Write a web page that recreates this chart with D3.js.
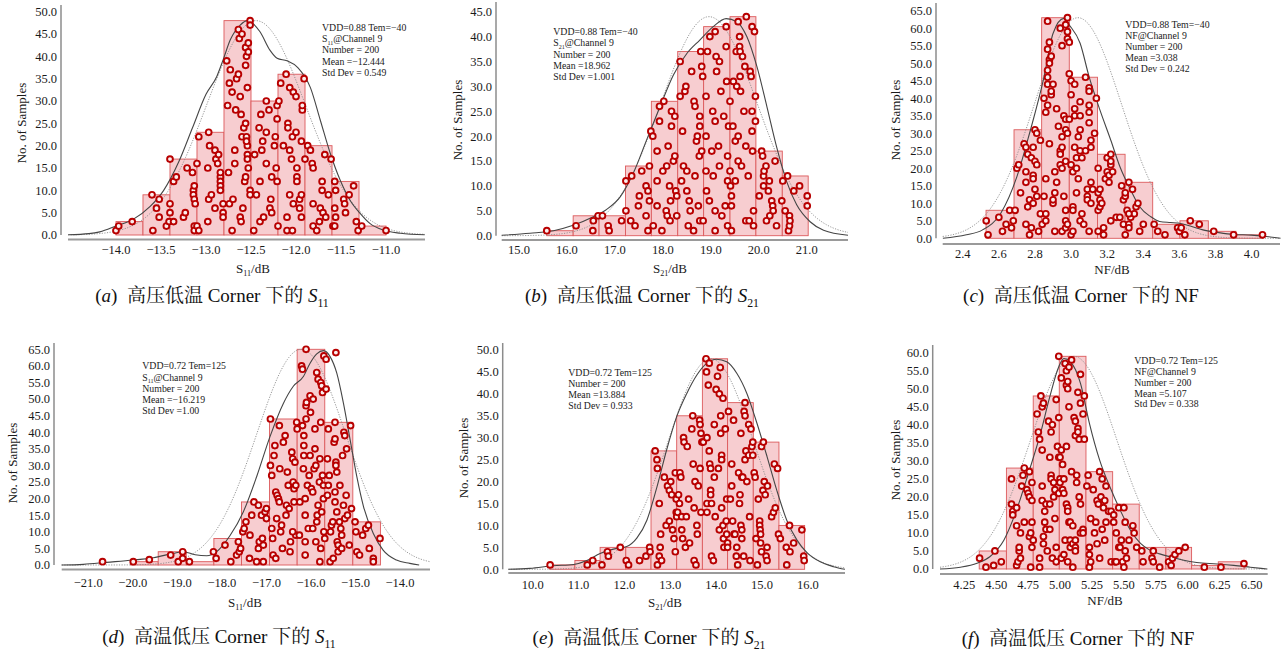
<!DOCTYPE html>
<html>
<head>
<meta charset="utf-8">
<script src="https://cdn.jsdelivr.net/npm/d3@7"></script>
<style>
  html, body { margin: 0; padding: 0; background: #fff; }
  svg { display: block; }
</style>
</head>
<body>
<svg id="fig" width="1281" height="653"></svg>
<script>
// ---------------- data ----------------
// (a) S11, VDD=0.88, -40 C
const edgesA  = [-14.0,-13.7,-13.4,-13.1,-12.8,-12.5,-12.2,-11.9,-11.6,-11.3,-11.0];
const countsA = [3,9,17,23,48,30,36,20,12,2];
const fitA    = [-12.444, 0.549];
const xTicksA = [-14.0,-13.5,-13.0,-12.5,-12.0,-11.5,-11.0];
const yTicksA = [0,5,10,15,20,25,30,35,40,45,50];
const statsA  = ["VDD=0.88 Tem=−40","S_{11}@Channel 9","Number = 200","Mean =−12.444","Std Dev = 0.549"];
const kdeA = [[-14.53,0.05],[-14.3,0.3],[-14.18,0.7],[-14.0,2.0],[-13.81,3.5],[-13.62,6.4],[-13.47,10],[-13.3,16.5],[-13.15,24],[-13.0,31.5],[-12.88,35.5],[-12.81,39.2],[-12.73,43.7],[-12.62,47],[-12.54,48],[-12.4,45.5],[-12.29,41.4],[-12.21,39.6],[-12.1,39],[-11.98,37.5],[-11.84,33],[-11.73,25.7],[-11.62,18.3],[-11.51,12.3],[-11.4,7.8],[-11.29,4.9],[-11.18,2.6],[-11.03,1.1],[-10.84,0.4],[-10.57,0.05]];
const pointsA = [[-14.0,1],[-13.97,2],[-13.82,3],
[-13.6,9],[-13.52,8],[-13.55,6],[-13.52,4],[-13.59,1],[-13.44,2],[-13.41,3],[-13.4,5],[-13.4,7],
[-13.4,17],[-13.36,12],[-13.33,13],[-13.36,3],[-13.25,4],[-13.23,5],[-13.21,15],[-13.15,14],[-13.14,10],[-13.14,9],[-13.13,8],[-13.12,7],[-13.13,2],[-13.13,1],[-13.1,16],[-13.13,11],
[-13.08,22],[-13.1,2],[-13.08,1],[-12.97,23],[-12.98,15],[-12.96,20],[-12.98,3],[-12.97,8],[-12.94,9],[-12.9,19],[-12.89,17],[-12.87,16],[-12.9,6],[-12.86,18],[-12.84,13],[-12.84,14],[-12.84,12],[-12.84,11],[-12.84,10],[-12.81,7],[-12.81,5],[-12.81,4],
[-12.77,39],[-12.76,29],[-12.74,34],[-12.73,37],[-12.71,32],[-12.75,14],[-12.74,7],[-12.71,1],[-12.7,8],[-12.68,19],[-12.68,16],[-12.67,28],[-12.66,35],[-12.64,46],[-12.63,44],[-12.62,4],[-12.64,36],[-12.62,31],[-12.61,3],[-12.6,45],[-12.61,27],[-12.6,22],[-12.59,6],[-12.58,24],[-12.56,38],[-12.56,25],[-12.56,42],[-12.55,40],[-12.55,22],[-12.54,20],[-12.53,43],[-12.53,41],[-12.51,48],[-12.51,47],[-12.57,12],[-12.56,13],[-12.54,18],[-12.54,17],[-12.53,15],[-12.51,10],[-12.51,9],[-12.54,33],[-12.55,21],
[-12.47,1],[-12.46,18],[-12.41,24],[-12.4,3],[-12.38,19],[-12.37,21],[-12.39,27],[-12.36,4],[-12.33,30],[-12.33,23],[-12.33,16],[-12.3,28],[-12.28,8],[-12.29,6],[-12.27,5],[-12.27,13],[-12.24,20],[-12.23,22],[-12.22,15],[-12.21,26],[-12.21,29],[-12.2,2],[-12.21,12],[-12.4,12],[-12.44,9],
[-12.19,30],[-12.17,34],[-12.14,20],[-12.11,36],[-12.1,1],[-12.09,25],[-12.07,33],[-12.07,9],[-12.09,24],[-12.07,19],[-12.05,17],[-12.04,1],[-12.04,22],[-12.03,7],[-12.03,32],[-12.0,31],[-12.0,23],[-11.99,13],[-11.99,12],[-11.96,8],[-11.96,6],[-11.94,9],[-11.94,4],[-11.93,28],[-11.93,29],[-11.94,21],[-11.91,35],[-11.99,15],[-12.1,4],
[-11.9,17],[-11.87,20],[-11.84,19],[-11.82,16],[-11.81,15],[-11.81,7],[-11.81,2],[-11.77,1],[-11.74,3],[-11.73,6],[-11.71,12],[-11.71,10],[-11.7,5],[-11.68,18],[-11.67,4],[-11.64,9],[-11.61,17],[-11.59,2],
[-11.57,12],[-11.57,6],[-11.56,10],[-11.47,8],[-11.46,7],[-11.45,5],[-11.41,9],[-11.36,11],[-11.33,3],[-11.31,1],[-11.56,4],[-11.57,2],
[-11.27,2],[-11.0,1]];

// (b) S21, VDD=0.88, -40 C
const edgesB  = [15.58,16.13,16.67,17.22,17.76,18.31,18.85,19.40,19.94,20.49,21.03];
const countsB = [1,4,4,14,27,37,42,44,17,12];
const fitB    = [18.962, 1.001];
const xTicksB = [15,16,17,18,19,20,21];
const yTicksB = [0,5,10,15,20,25,30,35,40,45];
const statsB  = ["VDD=0.88 Tem=−40","S_{21}@Channel 9","Number = 200","Mean =18.962","Std Dev =1.001"];
const kdeB = [[14.64,0.1],[15.23,0.5],[15.72,1.0],[16.13,2.1],[16.55,3.8],[16.83,5.3],[17.11,7.8],[17.38,12.5],[17.66,19.2],[17.94,25.9],[18.22,32.3],[18.5,36.6],[18.77,39.3],[19.05,42.0],[19.32,43.6],[19.54,43.0],[19.75,40.0],[19.96,34.0],[20.17,25.9],[20.37,17.9],[20.58,10.9],[20.79,6.2],[21.07,2.8],[21.35,1.1],[21.86,0.1]];
const pointsB = [[15.58,1],[16.19,2],[16.55,3],[16.54,1],[16.65,4],[16.74,4],[16.86,2],[16.88,1],
[17.14,3],[17.23,5],[17.23,11],[17.35,12],[17.33,3],[17.42,2],[17.49,6],[17.51,8],[17.56,13],[17.65,10],[17.69,9],[17.65,4],[17.72,7],[17.69,1],[17.72,14],[17.75,21],[17.79,20],[17.8,2],
[17.88,17],[17.88,11],[17.88,6],[17.93,23],[17.93,26],[17.98,1],[18.0,13],[18.02,27],[18.07,5],[18.08,14],[18.09,4],[18.11,18],[18.14,10],[18.15,3],[18.16,7],[18.18,22],[18.18,25],[18.22,15],[18.25,24],[18.25,16],[18.27,9],[18.29,8],[18.29,4],
[18.36,35],[18.36,28],[18.39,11],[18.41,21],[18.43,14],[18.46,29],[18.48,30],[18.5,9],[18.5,13],[18.53,2],[18.55,7],[18.57,5],[18.6,33],[18.64,1],[18.65,27],[18.67,26],[18.67,12],[18.7,19],[18.72,20],[18.74,6],[18.76,16],[18.77,24],[18.77,22],[18.79,37],[18.77,3],[18.81,17],[18.81,34],[18.83,32],[18.84,3],
[18.9,28],[18.9,20],[18.9,13],[18.91,9],[18.93,37],[18.97,7],[18.98,40],[19.02,17],[19.04,25],[19.05,12],[19.09,1],[19.09,41],[19.09,23],[19.09,5],[19.11,36],[19.12,33],[19.16,18],[19.18,14],[19.18,35],[19.21,29],[19.23,4],[19.27,24],[19.3,6],[19.32,38],[19.32,42],[19.33,31],[19.35,16],[19.35,11],[19.35,2],[19.37,22],
[19.4,27],[19.4,13],[19.41,10],[19.43,1],[19.43,8],[19.43,6],[19.46,22],[19.47,31],[19.51,11],[19.51,19],[19.53,37],[19.54,30],[19.57,15],[19.57,20],[19.57,43],[19.6,40],[19.6,38],[19.61,37],[19.61,32],[19.62,29],[19.64,14],[19.66,36],[19.69,25],[19.71,34],[19.73,18],[19.73,3],[19.74,44],[19.78,12],[19.8,3],[19.82,33],[19.84,32],[19.86,42],[19.86,21],[19.86,25],[19.87,17],[19.89,5],[19.89,2],[19.91,41],[19.93,23],[19.93,28],
[20.01,8],[20.06,17],[20.08,16],[20.1,10],[20.1,12],[20.11,13],[20.15,14],[20.16,3],[20.2,9],[20.22,11],[20.23,4],[20.27,7],[20.29,6],[20.3,5],[20.34,15],[20.37,2],[20.48,7],
[20.5,11],[20.55,5],[20.6,12],[20.62,1],[20.64,2],[20.64,4],[20.65,3],[20.73,9],[20.85,10],[21.01,8],[21.01,6]];

// (c) NF, VDD=0.88, -40 C
const edgesC  = [2.529,2.684,2.837,2.990,3.146,3.299,3.452,3.603,3.760,3.913,4.065];
const countsC = [8,31,63,46,24,16,4,5,2,1];
const fitC    = [3.038, 0.242];
const xTicksC = [2.4,2.6,2.8,3.0,3.2,3.4,3.6,3.8,4.0];
const yTicksC = [0,5,10,15,20,25,30,35,40,45,50,55,60,65];
const statsC  = ["VDD=0.88 Tem=−40","NF@Channel 9","Number = 200","Mean =3.038","Std Dev = 0.242"];
const kdeC = [[2.29,0],[2.42,1],[2.51,2.4],[2.61,7.1],[2.7,17.6],[2.77,30],[2.85,46],[2.9,58.5],[2.96,62.8],[2.99,60.9],[3.05,55.7],[3.1,46.1],[3.16,36.6],[3.22,28],[3.27,20.5],[3.33,13.8],[3.38,9],[3.44,6.2],[3.49,4.8],[3.55,4.5],[3.6,4.3],[3.66,3.5],[3.73,2.4],[3.81,1.7],[3.9,1.1],[4.0,0.9],[4.08,0.5],[4.16,0]];
const pointsC = [[2.53,5],[2.54,1],[2.6,6],[2.62,2],[2.64,4],[2.66,8],[2.67,3],[2.68,5],
[2.69,8],[2.7,20],[2.71,21],[2.72,13],[2.74,27],[2.75,26],[2.75,19],[2.75,4],[2.75,16],[2.76,24],[2.76,9],[2.77,11],[2.77,1],[2.78,3],[2.78,23],[2.79,18],[2.79,17],[2.79,10],[2.79,26],[2.8,31],[2.8,22],[2.8,14],[2.81,30],[2.81,21],[2.81,12],[2.82,2],[2.83,7],[2.83,28],[2.84,4],
[2.85,40],[2.85,12],[2.86,17],[2.86,5],[2.86,7],[2.86,36],[2.87,62],[2.87,54],[2.87,38],[2.87,48],[2.87,46],[2.87,44],[2.88,51],[2.88,27],[2.88,56],[2.88,50],[2.89,41],[2.89,52],[2.89,42],[2.9,10],[2.9,44],[2.9,11],[2.91,19],[2.91,2],[2.91,13],[2.92,16],[2.92,37],[2.93,32],[2.94,25],[2.94,24],[2.94,21],[2.94,60],[2.95,20],[2.95,55],[2.95,26],[2.95,29],[2.95,2],[2.96,12],[2.96,35],[2.97,31],[2.97,34],[2.97,8],[2.97,61],[2.97,3],[2.97,5],[2.97,22],[2.98,63],[2.98,57],[2.98,59],[2.98,30],[2.98,4],[2.99,56],[2.99,34],
[2.99,47],[3.0,1],[3.0,45],[3.0,41],[3.0,21],[3.01,19],[3.01,9],[3.01,2],[3.01,8],[3.02,26],[3.02,37],[3.02,35],[3.02,44],[3.03,13],[3.03,20],[3.03,23],[3.04,17],[3.04,29],[3.05,35],[3.05,25],[3.05,31],[3.05,39],[3.05,5],[3.06,7],[3.06,23],[3.07,4],[3.08,46],[3.08,25],[3.09,14],[3.09,12],[3.09,11],[3.1,43],[3.1,42],[3.1,33],[3.1,2],[3.1,38],[3.1,36],[3.11,28],[3.11,26],[3.11,16],[3.11,10],[3.12,14],[3.13,30],[3.14,40],
[3.15,20],[3.15,2],[3.15,13],[3.15,8],[3.16,9],[3.16,11],[3.16,14],[3.17,10],[3.18,3],[3.18,1],[3.19,17],[3.2,19],[3.2,23],[3.21,16],[3.21,18],[3.22,21],[3.22,24],[3.22,5],[3.22,22],[3.23,19],[3.25,6],[3.27,6],[3.28,15],[3.29,4],
[3.29,11],[3.3,12],[3.3,1],[3.3,13],[3.31,8],[3.32,16],[3.32,4],[3.32,3],[3.33,6],[3.34,14],[3.35,7],[3.36,9],[3.37,10],[3.38,2],[3.4,4],[3.32,7],
[3.46,4],[3.48,2],[3.52,1],[3.59,3],[3.6,2],[3.61,3],[3.63,1],[3.66,5],[3.71,4],[3.79,2],[3.9,1],[4.06,1]];

// (d) S11, VDD=0.72, 125 C
const edgesD  = [-20.05,-19.43,-18.80,-18.18,-17.56,-16.93,-16.31,-15.69,-15.06,-14.44];
const countsD = [1,4,1,8,19,44,65,43,13];
const fitD    = [-16.219, 1.00];
const xTicksD = [-21,-20,-19,-18,-17,-16,-15,-14];
const yTicksD = [0,5,10,15,20,25,30,35,40,45,50,55,60,65];
const statsD  = ["VDD=0.72 Tem=125","S_{11}@Channel 9","Number = 200","Mean =−16.219","Std Dev =1.00"];
const kdeD = [[-21.6,0],[-21.11,0.2],[-20.59,0.8],[-19.99,1.5],[-19.54,2.2],[-19.09,3.5],[-18.87,4],[-18.6,3.1],[-18.34,2.8],[-18.12,4],[-17.82,8.8],[-17.52,16],[-17.22,26.6],[-16.92,38.7],[-16.62,48.7],[-16.4,53.8],[-16.17,56.8],[-16.02,60.8],[-15.87,63.6],[-15.72,64.6],[-15.57,62.8],[-15.42,57.8],[-15.27,48.7],[-15.12,37.7],[-14.97,26.6],[-14.82,17.6],[-14.6,9.5],[-14.38,4.5],[-14.08,1.5],[-13.78,0.5],[-13.57,0]];
const pointsD = [[-20.68,1],[-19.99,1],[-19.63,1.6],
[-19.15,3],[-18.88,4],[-18.98,1],[-18.88,2],[-18.73,1],
[-18.19,4],[-18.13,2],[-17.93,6],[-17.8,1],
[-17.67,3],[-17.63,7],[-17.61,4],[-17.58,5],[-17.53,10],[-17.5,11],[-17.46,13],[-17.38,2],[-17.37,9],[-17.33,15],[-17.28,19],[-17.22,1],[-17.18,18],[-17.18,5],[-17.16,7],[-17.11,15],[-17.09,8],[-17.07,1],[-17.07,6],[-17.03,16],[-17.0,14],[-17.0,17],
[-16.91,44],[-16.91,30],[-16.88,27],[-16.88,11],[-16.86,8],[-16.85,3],[-16.83,33],[-16.81,36],[-16.79,2],[-16.79,22],[-16.77,14],[-16.76,21],[-16.73,20],[-16.71,42],[-16.71,19],[-16.7,29],[-16.68,10],[-16.66,12],[-16.64,5],[-16.62,37],[-16.58,39],[-16.56,15],[-16.55,18],[-16.53,28],[-16.51,24],[-16.49,17],[-16.47,4],[-16.46,7],[-16.43,34],[-16.41,32],[-16.4,25],[-16.38,23],[-16.38,19],[-16.36,31],[-16.34,24],[-16.32,43],[-16.31,41],[-16.34,9],[-16.41,10],
[-16.26,9],[-16.25,19],[-16.21,60],[-16.19,42],[-16.19,59],[-16.17,29],[-16.16,33],[-16.16,36],[-16.16,39],[-16.13,15],[-16.13,20],[-16.13,7],[-16.13,3],[-16.11,44],[-16.11,48],[-16.11,65],[-16.1,49],[-16.08,24],[-16.06,11],[-16.04,27],[-16.02,51],[-16.02,33],[-16.01,46],[-15.99,23],[-15.96,22],[-15.96,11],[-15.95,50],[-15.93,29],[-15.91,41],[-15.91,35],[-15.89,7],[-15.89,30],[-15.87,58],[-15.87,13],[-15.86,15],[-15.84,56],[-15.84,18],[-15.81,25],[-15.8,32],[-15.8,1],[-15.78,55],[-15.78,43],[-15.78,5],[-15.76,54],[-15.76,16],[-15.74,52],[-15.74,27],[-15.72,20],[-15.72,24],[-15.71,10],[-15.71,63],[-15.69,8],
[-15.66,53],[-15.66,62],[-15.63,32],[-15.63,21],[-15.61,41],[-15.61,24],[-15.59,27],[-15.57,1],[-15.56,10],[-15.54,12],[-15.51,13],[-15.5,2],[-15.48,37],[-15.46,38],[-15.46,19],[-15.46,22],[-15.44,64],[-15.46,43],[-15.44,31],[-15.44,30],[-15.42,28],[-15.42,16],[-15.41,7],[-15.39,6],[-15.39,4],[-15.36,13],[-15.35,24],[-15.33,11],[-15.31,9],[-15.31,5],[-15.29,33],[-15.27,18],[-15.26,40],[-15.24,14],[-15.24,39],[-15.21,21],[-15.2,35],[-15.18,15],[-15.14,6],[-15.11,42],[-15.09,17],
[-15.01,13],[-14.99,10],[-14.97,4],[-14.91,3],[-14.84,9],[-14.77,11],[-14.71,12],[-14.69,5],[-14.6,2],[-14.6,1],[-14.45,8]];

// (e) S21, VDD=0.72, 125 C
const edgesE  = [10.37,10.92,11.47,12.03,12.58,13.14,13.70,14.25,14.81,15.37,15.93];
const countsE = [1,2,5,5,27,35,48,38,29,10];
const fitE    = [13.884, 0.933];
const xTicksE = [10,11,12,13,14,15,16];
const yTicksE = [0,5,10,15,20,25,30,35,40,45,50];
const statsE  = ["VDD=0.72 Tem=125","Number = 200","Mean =13.884","Std Dev = 0.933"];
const kdeE = [[9.47,0],[9.94,0.2],[10.45,0.8],[10.89,1.1],[11.18,2],[11.47,3.6],[11.76,4.6],[12.05,5.2],[12.27,7.1],[12.49,11.2],[12.71,18.8],[12.92,27.2],[13.14,34.8],[13.36,40.1],[13.58,44.3],[13.8,47],[14.01,47.9],[14.23,47.3],[14.45,44.7],[14.67,40.1],[14.89,33.3],[15.11,25.7],[15.32,18.1],[15.54,11.2],[15.76,6.7],[15.98,3.8],[16.27,1.7],[16.56,0.6],[16.81,0]];
const pointsE = [[10.38,1],[11.19,1],[11.31,2],[11.51,1],[11.63,4],[11.65,3],[11.91,5],
[12.04,2],[12.09,1],[12.33,2],[12.47,3],[12.55,5],[12.56,4],
[12.67,27],[12.71,25],[12.72,23],[12.72,1],[12.76,15],[12.76,3],[12.78,5],[12.79,8],[12.81,2],[12.87,21],[12.91,10],[12.94,19],[12.98,11],[12.98,18],[13.01,20],[13.03,17],[13.05,9],[13.08,7],[13.11,22],[13.13,16],[13.13,13],[13.11,4],
[13.14,12],[13.16,13],[13.18,17],[13.2,15],[13.21,22],[13.23,21],[13.25,12],[13.25,9],[13.27,7],[13.29,30],[13.3,29],[13.33,5],[13.35,12],[13.37,28],[13.42,6],[13.4,16],[13.49,35],[13.47,32],[13.5,24],[13.52,14],[13.52,2],[13.54,20],[13.56,1],[13.58,10],[13.59,8],[13.61,19],[13.64,34],[13.65,33],[13.65,23],[13.67,13],[13.67,31],[13.69,29],
[13.72,29],[13.78,48],[13.79,45],[13.8,30],[13.8,15],[13.8,13],[13.83,42],[13.85,47],[13.85,27],[13.86,24],[13.88,23],[13.88,18],[13.88,17],[13.9,3],[13.9,15],[13.94,2],[13.96,33],[13.96,21],[13.98,12],[14.0,41],[14.03,44],[14.05,23],[14.07,40],[14.07,9],[14.09,46],[14.1,35],[14.1,31],[14.12,26],[14.12,25],[14.12,14],[14.15,39],[14.15,10],[14.16,7],[14.17,5],[14.2,32],[14.22,11],[14.23,16],[14.23,8],[14.25,6],[14.25,5],
[14.27,36],[14.31,16],[14.34,24],[14.34,19],[14.36,11],[14.38,34],[14.39,8],[14.41,8],[14.44,3],[14.45,5],[14.47,1],[14.49,22],[14.51,15],[14.52,17],[14.54,31],[14.54,10],[14.56,21],[14.56,9],[14.56,7],[14.58,21],[14.6,3],[14.61,36],[14.63,35],[14.63,38],[14.63,25],[14.65,27],[14.67,20],[14.71,33],[14.71,26],[14.73,12],[14.74,2],[14.76,32],[14.78,28],[14.8,29],[14.8,26],
[14.83,22],[14.85,21],[14.87,7],[14.9,1],[14.92,16],[14.95,11],[14.95,10],[14.96,9],[14.97,8],[14.97,6],[14.99,28],[14.99,4],[15.02,18],[15.03,29],[15.05,20],[15.07,17],[15.09,3],[15.11,5],[15.11,2],[15.12,19],[15.21,12],[15.25,13],[15.29,14],[15.27,24],[15.34,23],[15.36,8],[15.4,7],
[15.54,1],[15.53,5],[15.6,10],[15.61,4],[15.69,6],[15.87,9],[15.91,3],[15.92,2]];

// (f) NF, VDD=0.72, 125 C
const edgesF  = [4.367,4.580,4.790,4.994,5.203,5.412,5.620,5.829,6.030,6.239,6.448];
const countsF = [5,28,48,59,27,18,6,6,1,2];
const fitF    = [5.107, 0.338];
const xTicksF = [4.25,4.5,4.75,5.0,5.25,5.5,5.75,6.0,6.25,6.5];
const yTicksF = [0,5,10,15,20,25,30,35,40,45,50,55,60];
const statsF  = ["VDD=0.72 Tem=125","NF@Channel 9","Number = 200","Mean =5.107","Std Dev = 0.338"];
const kdeF = [[4.06,0],[4.22,0.5],[4.35,1.6],[4.45,3.4],[4.56,8],[4.66,16.4],[4.76,27.4],[4.84,36.7],[4.92,47.8],[4.99,56.1],[5.03,58.4],[5.08,57.5],[5.16,51.5],[5.23,40.4],[5.31,30.2],[5.39,22.8],[5.47,16.4],[5.55,10.8],[5.63,7.1],[5.7,5.3],[5.78,4.2],[5.86,3.4],[5.96,2.5],[6.07,1.8],[6.23,1.4],[6.36,1],[6.49,0.5],[6.62,0]];
const pointsF = [[4.37,3],[4.42,0.5],[4.48,1],[4.49,5],[4.54,2],
[4.62,25],[4.62,18],[4.63,16],[4.63,15],[4.66,1],[4.66,17],[4.66,12],[4.67,2],[4.68,5],[4.68,6],[4.69,10],[4.69,3],[4.7,23],[4.71,26],[4.72,13],[4.72,28],[4.74,22],[4.75,21],[4.76,27],[4.76,20],[4.76,9],[4.77,10],[4.77,0.5],[4.78,24],[4.78,19],[4.78,13],[4.78,6],[4.79,8],
[4.82,43],[4.83,38],[4.84,0.5],[4.84,36],[4.85,48],[4.86,23],[4.86,19],[4.86,45],[4.86,33],[4.87,9],[4.87,7],[4.87,46],[4.88,13],[4.88,16],[4.89,18],[4.89,11],[4.9,5],[4.91,41],[4.92,31],[4.92,18],[4.92,11],[4.93,26],[4.93,25],[4.93,38],[4.94,40],[4.94,3],[4.95,24],[4.95,20],[4.96,22],[4.96,14],[4.97,47],[4.97,6],[4.97,2],[4.98,34],[4.99,42],[4.99,31],[4.99,21],[4.84,3],
[4.99,59],[5.0,31],[5.0,25],[5.0,24],[5.01,33],[5.01,53],[5.01,3],[5.02,29],[5.02,22],[5.03,25],[5.03,21],[5.03,4],[5.04,57],[5.04,8],[5.05,34],[5.05,55],[5.05,18],[5.05,51],[5.06,17],[5.06,50],[5.06,52],[5.06,16],[5.06,2],[5.07,56],[5.07,45],[5.07,13],[5.08,8],[5.08,6],[5.08,13],[5.09,27],[5.09,58],[5.1,12],[5.1,7],[5.1,0.5],[5.11,42],[5.12,41],[5.12,8],[5.12,6],[5.12,5],[5.12,37],[5.13,26],[5.13,24],[5.14,39],[5.14,49],[5.14,38],[5.15,36],[5.15,20],[5.16,10],[5.16,18],[5.16,46],[5.16,54],[5.18,43],[5.18,11],[5.18,10],[5.19,48],[5.19,36],
[5.21,23],[5.22,26],[5.23,6],[5.23,0.5],[5.24,2],[5.23,4],[5.24,14],[5.26,22],[5.27,10],[5.28,13],[5.29,19],[5.29,7],[5.3,18],[5.31,27],[5.31,3],[5.32,20],[5.33,11],[5.33,25],[5.34,17],[5.35,19],[5.35,8],[5.36,23],[5.36,13],[5.38,16],[5.4,2],[5.4,16],[5.42,15],
[5.42,13],[5.43,2],[5.44,2],[5.44,10],[5.46,17],[5.46,6],[5.47,6],[5.48,8],[5.49,2],[5.5,0.5],[5.5,17],[5.51,5],[5.51,13],[5.52,3],[5.54,8],[5.57,12],[5.58,10],[5.6,6],
[5.64,5],[5.65,2],[5.72,3],[5.73,5],[5.73,2],[5.78,0.5],
[5.85,2],[5.87,1],[5.88,3],[5.9,4],[5.93,5],[5.98,6],
[6.13,0.5],[6.26,0.5],[6.44,1.5]];

// sub-figure captions (*...* italic, _{...} subscript)
const captions = {
  a: "(*a*)  高压低温 Corner 下的 *S*_{11}",
  b: "(*b*)  高压低温 Corner 下的 *S*_{21}",
  c: "(*c*)  高压低温 Corner 下的 NF",
  d: "(*d*)  高温低压 Corner 下的 *S*_{11}",
  e: "(*e*)  高温低压 Corner 下的 *S*_{21}",
  f: "(*f*)  高温低压 Corner 下的 NF"
};
const xTitles = { a: "S_{11}/dB", b: "S_{21}/dB", c: "NF/dB", d: "S_{11}/dB", e: "S_{21}/dB", f: "NF/dB" };
const yTitle = "No. of Samples";

// ---------------- layout ----------------
const frames = {
  a: { ax: 61,    axTop: 5,   x0: 68,    x1: 425,    d0: -14.533, d1: -10.567, yZero: 235,   yTop: 11.7,  yMax: 50, axisY: 239.5, tickY: 250, xt: [253, 268],  yt: [21, 123],  st: [322, 27.3, 11.35],  cap: [212, 295], fmt: ".1f" },
  b: { ax: 496,   axTop: 2,   x0: 501.7, x1: 848,    d0: 14.64,   d1: 21.86,   yZero: 235.7, yTop: 11.7,  yMax: 45, axisY: 240,   tickY: 250, xt: [670, 268],  yt: [457, 120], st: [553.3, 31.7, 11.25], cap: [642, 295], fmt: ".1f" },
  c: { ax: 936,   axTop: 3,   x0: 942.7, x1: 1280,   d0: 2.289,   d1: 4.157,   yZero: 238.3, yTop: 10.7,  yMax: 65, axisY: 244,   tickY: 254, xt: [1112, 269], yt: [895, 120], st: [1125.3, 25, 11],    cap: [1081, 295], fmt: ".1f" },
  d: { ax: 54,    axTop: 343, x0: 61.7,  x1: 430,    d0: -21.597, d1: -13.327, yZero: 565,   yTop: 349.3, yMax: 65, axisY: 569.5, tickY: 583, xt: [245, 602],  yt: [12, 463],  st: [142.3, 366, 11.25], cap: [219, 636], fmt: ".1f" },
  e: { ax: 502.7, axTop: 343, x0: 508.3, x1: 845,    d0: 9.468,   d1: 16.81,   yZero: 569.3, yTop: 350,   yMax: 50, axisY: 573,   tickY: 585, xt: [665, 602],  yt: [463, 458], st: [568.3, 372.7, 10.9], cap: [649, 637], fmt: ".1f" },
  f: { ax: 932.7, axTop: 345, x0: 940,   x1: 1267.7, d0: 4.06,    d1: 6.626,   yZero: 569,   yTop: 352.7, yMax: 60, axisY: 574,   tickY: 585, xt: [1105, 600], yt: [895, 460], st: [1134.3, 360.7, 10.8], cap: [1078, 638], fmt: ".2f" }
};

const panels = [
  { id: "a", edges: edgesA, counts: countsA, fit: fitA, kde: kdeA, pts: pointsA, xt: xTicksA, yt: yTicksA, stats: statsA },
  { id: "b", edges: edgesB, counts: countsB, fit: fitB, kde: kdeB, pts: pointsB, xt: xTicksB, yt: yTicksB, stats: statsB },
  { id: "c", edges: edgesC, counts: countsC, fit: fitC, kde: kdeC, pts: pointsC, xt: xTicksC, yt: yTicksC, stats: statsC },
  { id: "d", edges: edgesD, counts: countsD, fit: fitD, kde: kdeD, pts: pointsD, xt: xTicksD, yt: yTicksD, stats: statsD },
  { id: "e", edges: edgesE, counts: countsE, fit: fitE, kde: kdeE, pts: pointsE, xt: xTicksE, yt: yTicksE, stats: statsE },
  { id: "f", edges: edgesF, counts: countsF, fit: fitF, kde: kdeF, pts: pointsF, xt: xTicksF, yt: yTicksF, stats: statsF }
];

const SERIF = "'Liberation Serif','Times New Roman','DejaVu Serif',serif";
const CAPFONT = "'Liberation Serif','Times New Roman','Noto Serif CJK SC','Noto Sans CJK SC',serif";

// Writes a label with *italic* and _{subscript} runs as tspans.
function rich(textSel, str, size) {
  const parts = str.split(/(\*[^*]+\*|_\{[^}]+\})/).filter(s => s.length);
  let lift = 0;
  parts.forEach(tok => {
    let t;
    if (tok.startsWith("_{")) {
      const drop = size * 0.28;
      t = textSel.append("tspan").attr("font-size", size * 0.62).attr("dy", drop).text(tok.slice(2, -1));
      lift = drop;
      return;
    }
    if (tok.startsWith("*")) t = textSel.append("tspan").attr("font-style", "italic").text(tok.slice(1, -1));
    else t = textSel.append("tspan").text(tok);
    if (lift) { t.attr("dy", -lift); lift = 0; }
  });
}

const svg = d3.select("#fig");

panels.forEach(p => {
  const f = frames[p.id];
  const g = svg.append("g").attr("class", "panel-" + p.id);
  const x = d3.scaleLinear().domain([f.d0, f.d1]).range([f.x0, f.x1]);
  const y = d3.scaleLinear().domain([0, f.yMax]).range([f.yZero, f.yTop]);
  const peak = d3.max(p.counts);

  // histogram bars
  g.append("g").selectAll("rect")
    .data(p.counts.map((c, i) => ({ lo: p.edges[i], hi: p.edges[i + 1], c })))
    .join("rect")
    .attr("x", d => x(d.lo))
    .attr("y", d => y(d.c))
    .attr("width", d => x(d.hi) - x(d.lo))
    .attr("height", d => y(0) - y(d.c))
    .attr("fill", "#f7cdd0")
    .attr("stroke", "#dc5a5c")
    .attr("stroke-width", 0.9);

  // fitted normal curve (dotted), scaled to the tallest bin
  const [mu, sd] = p.fit;
  const nx = d3.range(0, 241).map(k => f.d0 + (f.d1 - f.d0) * k / 240);
  const normal = nx.map(v => [v, peak * Math.exp(-0.5 * ((v - mu) / sd) ** 2)]);
  g.append("path")
    .datum(normal)
    .attr("d", d3.line().x(d => x(d[0])).y(d => y(d[1])))
    .attr("fill", "none")
    .attr("stroke", "#8a8a8a")
    .attr("stroke-width", 0.9)
    .attr("stroke-dasharray", "1.2,1.4");

  // kernel density curve (solid)
  g.append("path")
    .datum(p.kde)
    .attr("d", d3.line().curve(d3.curveMonotoneX).x(d => x(d[0])).y(d => y(d[1])))
    .attr("fill", "none")
    .attr("stroke", "#454545")
    .attr("stroke-width", 1.1);

  // individual samples
  g.append("g").selectAll("circle")
    .data(p.pts)
    .join("circle")
    .attr("cx", d => x(d[0]))
    .attr("cy", d => y(d[1]))
    .attr("r", 2.9)
    .attr("fill", "#fbeeee")
    .attr("stroke", "#b80000")
    .attr("stroke-width", 1.9);

  // axes lines
  g.append("line")
    .attr("x1", f.ax).attr("x2", f.ax)
    .attr("y1", f.axTop).attr("y2", f.yZero)
    .attr("stroke", "#8c8c8c").attr("stroke-width", 1.5);
  g.append("line")
    .attr("x1", f.x0).attr("x2", f.x1)
    .attr("y1", f.axisY).attr("y2", f.axisY)
    .attr("stroke", "#9a9a9a").attr("stroke-width", 2);

  // y tick labels
  const yfmt = d3.format(".1f");
  g.append("g").selectAll("text")
    .data(p.yt)
    .join("text")
    .attr("x", f.ax - 4)
    .attr("y", d => y(d))
    .attr("dy", "0.35em")
    .attr("text-anchor", "end")
    .attr("font-family", SERIF)
    .attr("font-size", 12.5)
    .attr("fill", "#1a1a1a")
    .text(d => yfmt(d));

  // x tick labels
  const xfmt = d3.format(f.fmt);
  g.append("g").selectAll("text")
    .data(p.xt)
    .join("text")
    .attr("x", d => x(d))
    .attr("y", f.tickY)
    .attr("dy", "0.35em")
    .attr("text-anchor", "middle")
    .attr("font-family", SERIF)
    .attr("font-size", 12.5)
    .attr("fill", "#1a1a1a")
    .text(d => xfmt(d));

  // axis titles
  const xtitle = g.append("text")
    .attr("x", f.xt[0]).attr("y", f.xt[1]).attr("dy", "0.35em")
    .attr("text-anchor", "middle")
    .attr("font-family", SERIF).attr("font-size", 13).attr("fill", "#1a1a1a");
  rich(xtitle, xTitles[p.id], 13);

  g.append("text")
    .attr("transform", `translate(${f.yt[0]},${f.yt[1]}) rotate(-90)`)
    .attr("dy", "0.35em")
    .attr("text-anchor", "middle")
    .attr("font-family", SERIF).attr("font-size", 13).attr("fill", "#1a1a1a")
    .text(yTitle);

  // statistics block
  p.stats.forEach((line, i) => {
    const t = g.append("text")
      .attr("x", f.st[0]).attr("y", f.st[1] + i * f.st[2]).attr("dy", "0.35em")
      .attr("font-family", SERIF).attr("font-size", 9.8).attr("fill", "#1a1a1a");
    rich(t, line, 9.8);
  });

  // caption
  const cap = g.append("text")
    .attr("x", f.cap[0]).attr("y", f.cap[1]).attr("dy", "0.35em")
    .attr("text-anchor", "middle")
    .attr("xml:space", "preserve")
    .attr("font-family", CAPFONT).attr("font-size", 19).attr("fill", "#111");
  rich(cap, captions[p.id], 19);
});
</script>
</body>
</html>
